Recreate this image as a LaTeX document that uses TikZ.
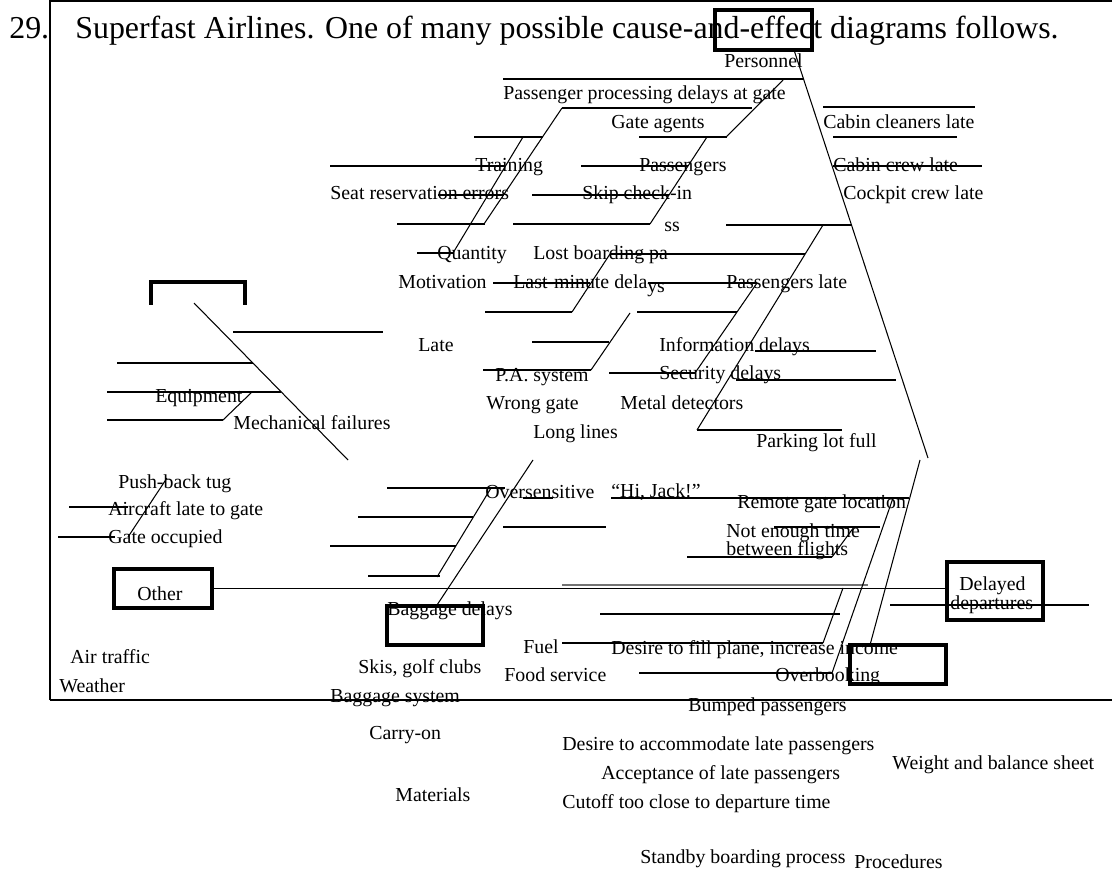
\documentclass[tikz,border=0pt]{standalone}
\usepackage{fontspec}
\setmainfont{Liberation Serif}
\usetikzlibrary{fit}
\begin{document}
\begin{tikzpicture}[x=0.02cm,y=-0.02cm,
  lbl/.style={anchor=west,inner sep=0pt,yshift=-1.5pt,font=\fontsize{11.3}{13}\selectfont,text height=0.68em,text depth=0.22em},
  ttl/.style={anchor=west,inner sep=0pt,font=\fontsize{18.15}{21}\selectfont,text height=0.68em,text depth=0.22em},
  bone/.style={line width=0.6pt},
  heavybox/.style={draw,line width=2pt,inner sep=0pt},
  frameline/.style={line width=0.9pt}]
\useasboundingbox (0,0) rectangle (1112,871);

% frame of the exercise
\draw[frameline] (50,700) -- (50,1) -- (1112,1);
\draw[line width=1.6pt] (50,700) -- (1112,700);

% title
\node[ttl] (num) at (9,34) {29.};
\node[ttl] (title) at (75,34) {Superfast Airlines. One of many possible cause-and-effect diagrams follows.};

% heavy boxes
\node[heavybox,fit={(715,10) (812,50)}] (effbox) {};
\node[heavybox,fit={(114,569) (212,608)}] (otherbox) {};
\node[heavybox,fit={(387,606) (483,645)}] (bagbox) {};
\node[heavybox,fit={(947,562) (1043,620)}] (delaybox) {};
\node[heavybox,fit={(850,645) (946,684)}] (procbox) {};
\draw[line width=2.6pt] (151,305) -- (151,282) -- (245,282) -- (245,305);

% main spine
\draw[line width=1.1pt] (otherbox.east) -- (otherbox.east -| delaybox.west);
\draw[line width=0.9pt,black!55] (562,585) -- (868,585);

% personnel bones
\draw[bone] (503,79) -- (803,79);
\draw[bone] (794,50) -- (928,458);
\draw[bone] (783,80) -- (726,137);
\draw[bone] (562,108) -- (752,108);
\draw[bone] (562,108) -- (484,224);
\draw[bone] (639,137) -- (727,137);
\draw[bone] (707,137) -- (650,224);
\draw[bone] (474,137) -- (543,137);
\draw[bone] (523,137) -- (453,253);
\draw[bone] (330,166) -- (504,166);
\draw[bone] (581,166) -- (688,166);
\draw[bone] (438,195) -- (504,195);
\draw[bone] (532,195) -- (669,195);
\draw[bone] (397,224) -- (485,224);
\draw[bone] (513,224) -- (650,224);
\draw[bone] (726,225) -- (851,225);
\draw[bone] (823,225) -- (697,430);
\draw[bone] (697,430) -- (842,430);
\draw[bone] (417,253) -- (453,253);
\draw[bone] (610,254) -- (805,254);
\draw[bone] (610,254) -- (572,312);
\draw[bone] (493,283) -- (590,283);
\draw[bone] (648,283) -- (757,283);
\draw[bone] (757,283) -- (695,373);
\draw[bone] (485,312) -- (572,312);
\draw[bone] (637,312) -- (737,312);
\draw[bone] (630,313) -- (591,370);
\draw[bone] (532,342) -- (609,342);
\draw[bone] (483,370) -- (591,370);
\draw[bone] (609,373) -- (695,373);
\draw[bone] (755,351) -- (876,351);
\draw[bone] (736,380) -- (896,380);
\draw[bone] (823,107) -- (975,107);
\draw[bone] (833,137) -- (957,137);
\draw[bone] (833,166) -- (982,166);

% equipment bones
\draw[bone] (194,303) -- (348,460);
\draw[bone] (233,332) -- (383,332);
\draw[bone] (117,363) -- (253,363);
\draw[bone] (107,392) -- (281,392);
\draw[bone] (252,392) -- (223,420);
\draw[bone] (107,420) -- (223,420);
\draw[bone] (69,507) -- (128,507);
\draw[bone] (58,537) -- (115,537);
\draw[bone] (167,478) -- (128,537);

% materials bones
\draw[bone] (533,460) -- (437,605);
\draw[bone] (491,488) -- (437,577);
\draw[bone] (368,576) -- (440,576);
\draw[bone] (330,546) -- (456,546);
\draw[bone] (358,517) -- (473,517);
\draw[bone] (387,488) -- (505,488);
\draw[bone] (523,498) -- (553,498);
\draw[bone] (503,527) -- (606,527);
\draw[bone] (600,614) -- (840,614);

% procedures bones
\draw[bone] (611,498) -- (909,498);
\draw[bone] (920,460) -- (870,645);
\draw[bone] (893,498) -- (832,673);
\draw[bone] (639,673) -- (832,673);
\draw[bone] (843,588) -- (823,643);
\draw[bone] (562,643) -- (823,643);
\draw[bone] (774,527) -- (880,527);
\draw[bone] (854,527) -- (832,557);
\draw[bone] (687,557) -- (832,557);
\draw[bone] (890,605) -- (1089,605);

% labels
\node[lbl] (personnel) at (724,61) {Personnel};
\node[lbl] (ppd) at (503,93) {Passenger processing delays at gate};
\node[lbl] (gateag) at (611,122) {Gate agents};
\node[lbl] (cleaners) at (823,122) {Cabin cleaners late};
\node[lbl] (training) at (475,165) {Training};
\node[lbl] (passengers) at (639,165) {Passengers};
\node[lbl] (cabincrew) at (833,165) {Cabin crew late};
\node[lbl] (seaterr) at (330,193) {Seat reservation errors};
\node[lbl] (skip) at (582,193) {Skip check-in};
\node[lbl] (cockpit) at (843,193) {Cockpit crew late};
\node[lbl] (ss) at (664,225) {ss};
\node[lbl] (quantity) at (437,253) {Quantity};
\node[lbl] (lostpass) at (533,253) {Lost boarding pa};
\node[lbl] (motivation) at (398,282) {Motivation};
\node[lbl] (lastmin) at (513,282) {Last-minute dela\raisebox{-2pt}{ys}};
\node[lbl] (paxlate) at (726,282) {Passengers late};
\node[lbl] (late) at (418,345) {Late};
\node[lbl] (info) at (659,345) {Information delays};
\node[lbl] (pa) at (495,375) {P.A. system};
\node[lbl] (security) at (659,373) {Security delays};
\node[lbl] (equipment) at (155,396) {Equipment};
\node[lbl] (wronggate) at (486,403) {Wrong gate};
\node[lbl] (metal) at (620,403) {Metal detectors};
\node[lbl] (mech) at (233,423) {Mechanical failures};
\node[lbl] (longlines) at (533,432) {Long lines};
\node[lbl] (parking) at (756,441) {Parking lot full};
\node[lbl] (pushback) at (118,482) {Push-back tug};
\node[lbl] (oversens) at (485,492) {Oversensitive};
\node[lbl] (hijack) at (611,491) {``Hi, Jack!''};
\node[lbl] (remote) at (737,502) {Remote gate location};
\node[lbl] (aclate) at (108,509) {Aircraft late to gate};
\node[lbl] (notenough) at (726,531) {Not enough time};
\node[lbl] (between) at (726,549) {between flights};
\node[lbl] (gateocc) at (108,537) {Gate occupied};
\node[lbl] (other) at (137,594) {Other};
\node[lbl] (delayed) at (959,584) {Delayed};
\node[lbl] (departures) at (950,603) {departures};
\node[lbl] (bagdelays) at (387,609) {Baggage delays};
\node[lbl] (fuel) at (523,647) {Fuel};
\node[lbl] (desirefill) at (611,648) {Desire to fill plane, increase income};
\node[lbl] (airtraffic) at (70,657) {Air traffic};
\node[lbl] (skis) at (358,667) {Skis, golf clubs};
\node[lbl] (food) at (504,675) {Food service};
\node[lbl] (overbook) at (775,675) {Overbooking};
\node[lbl] (weather) at (59,686) {Weather};
\node[lbl] (bagsys) at (330,696) {Baggage system};
\node[lbl] (bumped) at (688,705) {Bumped passengers};
\node[lbl] (carryon) at (369,733) {Carry-on};
\node[lbl] (accommodate) at (562,744) {Desire to accommodate late passengers};
\node[lbl] (weight) at (892,763) {Weight and balance sheet};
\node[lbl] (acceptance) at (601,773) {Acceptance of late passengers};
\node[lbl] (materials) at (395,795) {Materials};
\node[lbl] (cutoff) at (562,802) {Cutoff too close to departure time};
\node[lbl] (standby) at (640,857) {Standby boarding process};
\node[lbl] (procedures) at (854,862) {Procedures};
\end{tikzpicture}
\end{document}
